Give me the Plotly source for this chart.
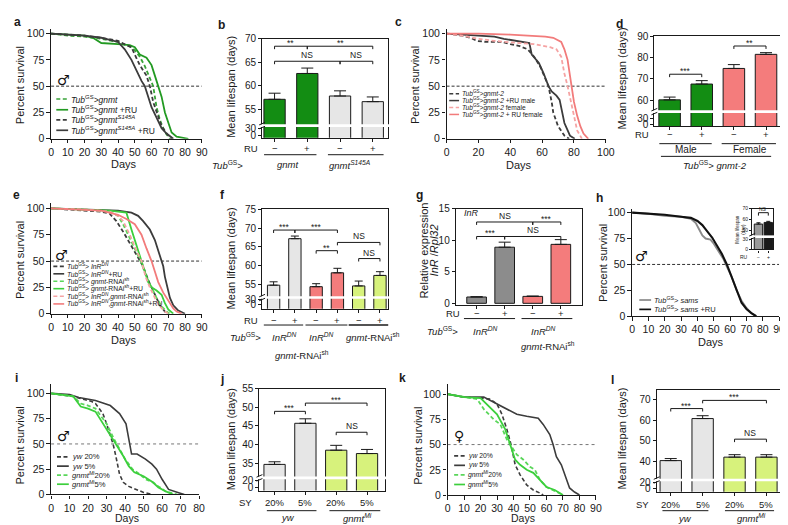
import plotly.graph_objects as go

W, H = 788, 525
FONT = "Arial, Liberation Sans, sans-serif"
INK = "#1a1a1a"

# ===================== DATA =====================
# a: survival (%) vs days, males
a_gnmt_days = [0, 10, 20, 30, 40, 45, 48, 50, 53, 56, 59, 61, 63, 65, 67, 69, 71]
a_gnmt_surv = [100, 98, 97, 95, 92, 89, 87, 84, 78, 69, 57, 50, 30, 18, 10, 4, 0]
a_gnmtRU_days = [0, 10, 20, 25, 30, 40, 47, 50, 53, 57, 60, 62, 64, 66, 68, 70, 72, 75, 80, 82]
a_gnmtRU_surv = [100, 99, 98, 96, 91, 90, 89, 87, 80, 77, 70, 60, 50, 40, 25, 15, 6, 2, 0.5, 0]
a_s145a_days = [0, 10, 20, 30, 40, 45, 48, 50, 53, 57, 59, 61, 63, 66, 69, 72]
a_s145a_surv = [100, 99, 98, 96, 93, 89, 87, 80, 70, 60, 50, 35, 25, 12, 5, 0]
a_s145aRU_days = [0, 10, 20, 30, 40, 44, 48, 51, 54, 56, 58, 60, 63, 66, 69, 73]
a_s145aRU_surv = [100, 99, 98, 96, 92, 85, 75, 65, 55, 50, 40, 30, 20, 10, 5, 0]

# b: mean lifespan (days)
b_ru = ["−", "+", "−", "+"]
b_mean = [57.1, 62.6, 57.8, 56.6]
b_sem = [1.3, 1.15, 1.1, 1.0]

# c: survival, gnmt-2
c_m_days = [0, 5, 10, 15, 19, 25, 35, 40, 46, 51, 55, 59, 62, 64, 66, 67, 70, 74, 77]
c_m_surv = [100, 99, 98, 96, 93, 92, 92, 90, 88, 85, 78, 68, 56, 50, 35, 25, 12, 3, 0]
c_mRU_days = [0, 10, 20, 30, 36, 45, 52, 53.5, 56, 58, 61, 64, 66, 69, 71, 72.5, 74, 75.5, 77.5, 80.5]
c_mRU_surv = [100, 99, 98, 97, 95, 93, 91, 80, 76, 72, 62, 50, 45, 41, 37, 25, 15, 10, 3, 0]
c_f_days = [0, 10, 20, 30, 45, 55, 65, 69, 72, 74, 76, 78, 80, 82, 85]
c_f_surv = [100, 98, 95, 93, 91, 90, 87, 85, 78, 62, 50, 35, 20, 8, 0]
c_fRU_days = [0, 20, 40, 55, 62, 67, 70, 72, 74, 76, 78.5, 80, 82, 84, 86, 89]
c_fRU_surv = [100, 100, 99, 98, 97, 96, 94, 92, 85, 75, 50, 35, 22, 12, 5, 0]

# d: mean lifespan (days)
d_ru = ["−", "+", "−", "+"]
d_mean = [60.2, 67.6, 74.9, 81.5]
d_sem = [1.3, 1.6, 1.8, 0.8]

# e: survival
e_inr_days = [0, 10, 20, 30, 35, 39, 43, 46, 49, 52.5, 55, 58, 62, 65, 68, 70]
e_inr_surv = [100, 99, 98, 97, 95, 88, 78, 70, 62, 52, 45, 32, 18, 8, 2, 0]
e_inrRU_days = [0, 20, 40, 48, 52, 55, 59, 62, 64, 66, 67, 68, 69.5, 71, 73, 76, 80]
e_inrRU_surv = [100, 99, 98, 96, 93, 88, 80, 70, 60, 50, 45, 35, 25, 15, 8, 3, 0]
e_rnai_days = [0, 20, 35, 40, 43, 46, 50, 53.5, 57, 60, 63, 66, 69, 71]
e_rnai_surv = [100, 99, 97, 93, 85, 75, 62, 50, 35, 25, 15, 7, 2, 0]
e_rnaiRU_days = [0, 20, 35, 45, 46, 48, 51, 54, 56, 58, 60, 63, 66, 68, 70, 73]
e_rnaiRU_surv = [100, 99, 98, 96, 90, 80, 65, 50, 40, 30, 25, 22, 18, 10, 4, 0]
e_both_days = [0, 20, 35, 40, 43, 47, 51, 54, 56.5, 59, 62, 65, 68, 70]
e_both_surv = [100, 99, 97, 93, 88, 75, 60, 50, 35, 25, 15, 7, 2, 0]
e_bothRU_days = [0, 20, 30, 40, 45, 50, 54, 57, 60, 62, 64, 67, 70, 73, 75, 78]
e_bothRU_surv = [100, 99, 98, 94, 90, 85, 75, 62, 50, 40, 30, 20, 12, 5, 2, 0]

# f: mean lifespan (days)
f_ru = ["−", "+", "−", "+", "−", "+"]
f_mean = [54.8, 67.2, 54.4, 58.1, 54.6, 57.4]
f_sem = [0.9, 0.7, 0.8, 1.2, 1.3, 1.0]

# g: relative expression InR/Rpl32
g_ru = ["−", "+", "−", "+"]
g_expr = [1.0, 8.9, 1.1, 9.35]
g_sem = [0.05, 0.8, 0.05, 0.75]

# h: survival sams
h_sams_days = [0, 10, 20, 30, 36, 39, 41, 43, 45, 48, 50, 53, 56, 58, 61, 64, 67, 70, 73, 76]
h_sams_surv = [100, 99, 97, 96, 94, 90, 84, 78, 75, 74, 70, 62, 55, 48, 38, 25, 15, 8, 3, 0]
h_samsRU_days = [0, 10, 20, 30, 36, 40, 43, 46, 49, 52, 55, 58, 60, 62, 64, 67, 70, 73, 76]
h_samsRU_surv = [100, 99, 98, 96, 95, 92, 88, 82, 76, 68, 60, 50, 42, 33, 25, 13, 7, 3, 0]
h_ins_ru = ["−", "+"]
h_ins_mean = [56.0, 57.5]
h_ins_sem = [1.2, 1.0]

# i: survival, males, SY diet
i_yw20_days = [0, 5, 12, 18, 22, 24, 26, 28, 30, 32, 33.5, 35, 37, 39, 42, 46, 50, 55]
i_yw20_surv = [100, 99, 97, 94, 92, 90, 85, 80, 70, 58, 50, 38, 20, 12, 8, 5, 2, 0]
i_yw5_days = [0, 10, 15, 24, 32, 37, 40.5, 42, 43.5, 46.5, 51, 54.5, 57, 60, 63.5, 68.5, 72]
i_yw5_surv = [100, 99, 96, 93, 88, 80, 70, 55, 40, 40, 35, 30, 25, 15, 5, 2, 0]
i_mi20_days = [0, 12, 16, 20, 24, 30, 34, 37, 40, 44, 48, 51, 55, 58, 62, 68]
i_mi20_surv = [100, 97, 90, 88, 85, 70, 55, 45, 35, 25, 20, 15, 12, 8, 3, 0]
i_mi5_days = [0, 12, 16, 20, 24, 30, 35, 39, 42, 45, 50, 55, 58, 62, 66]
i_mi5_surv = [100, 97, 87, 85, 82, 65, 50, 38, 28, 22, 18, 12, 7, 3, 0]

# j: mean lifespan (days)
j_sy = ["20%", "5%", "20%", "5%"]
j_mean = [34.7, 45.7, 38.5, 37.6]
j_sem = [0.7, 1.2, 1.3, 1.1]

# k: survival, females, SY diet
k_yw20_days = [0, 10, 20, 26, 30, 33, 36, 38.5, 41, 44, 48, 52, 56, 58]
k_yw20_surv = [100, 97, 96, 95, 90, 80, 65, 50, 30, 20, 10, 5, 2, 0]
k_yw5_days = [0, 10, 22, 28, 34, 42, 48, 55, 58, 62, 64, 66, 69, 72, 74, 77, 80]
k_yw5_surv = [100, 97, 97, 92, 87, 80, 78, 76, 70, 60, 50, 38, 30, 15, 7, 3, 0]
k_mi20_days = [0, 10, 18, 22, 28, 32, 36, 38, 42, 46, 50, 53, 56, 60, 64, 70]
k_mi20_surv = [100, 97, 95, 85, 75, 70, 55, 50, 40, 35, 28, 25, 15, 8, 5, 0]
k_mi5_days = [0, 10, 20, 25, 30, 35, 38, 41, 44, 48, 52, 56, 60, 65, 70]
k_mi5_surv = [100, 97, 96, 88, 80, 65, 50, 35, 30, 25, 22, 15, 8, 5, 0]

# l: mean lifespan (days)
l_sy = ["20%", "5%", "20%", "5%"]
l_mean = [40.3, 60.9, 42.0, 42.0]
l_sem = [1.0, 1.4, 1.2, 1.2]

# colours
GREEN_BAR = "#138d13"
GREY_BAR = "#e6e6e6"
PINK_BAR = "#f47c7c"
LIME_BAR = "#d7f27c"
DGREY_BAR = "#8c8c8c"
GREEN_LINE = "#229a22"
GREEN_DASH = "#39a339"
DARK_LINE = "#3c3c3c"
PINK_LINE = "#f27b7b"
PINK_DASH = "#f5a3a3"
BRIGHT_GREEN = "#3ccf3c"
BRIGHT_GREEN_D = "#5ad65a"

# ===================== HELPERS =====================
fig = go.Figure()
LAY = {}
shapes, anns = [], []
count = [0]
TICK_SURV = 10.5
TICK_BAR = 10
TITLE = 11


def new_axes(Lp, Rp, Tp, Bp, xr, yr, tfs):
    count[0] += 1
    n = count[0]
    s = "" if n == 1 else str(n)
    base = dict(showgrid=False, zeroline=False, showline=True, linecolor=INK, linewidth=1.2,
                ticks="outside", ticklen=3.5, tickwidth=1, tickcolor=INK,
                tickfont=dict(size=tfs, color=INK, family=FONT), fixedrange=True)
    LAY["xaxis" + s] = dict(base, domain=[Lp / W, Rp / W], range=xr, anchor="y" + s)
    LAY["yaxis" + s] = dict(base, domain=[1 - Bp / H, 1 - Tp / H], range=yr, anchor="x" + s)
    return "x" + s, "y" + s, LAY["xaxis" + s], LAY["yaxis" + s]


def text_px(s, x, y, size=9, xa="center", ya="middle", angle=0, color=INK, bold=False, family=FONT):
    if bold:
        s = "<b>" + s + "</b>"
    anns.append(dict(text=s, x=x / W, y=1 - y / H, xref="paper", yref="paper", xanchor=xa,
                     yanchor=ya, showarrow=False, textangle=angle, borderpad=0,
                     font=dict(size=size, color=color, family=family)))


def text_xd(s, x, xref, y, size=9, xa="center"):
    anns.append(dict(text=s, x=x, y=1 - y / H, xref=xref, yref="paper", xanchor=xa, borderpad=0,
                     yanchor="middle", showarrow=False, font=dict(size=size, color=INK, family=FONT)))


def line_px(x0, y0, x1, y1, color=INK, width=1, dash="solid"):
    shapes.append(dict(type="line", xref="paper", yref="paper", x0=x0 / W, x1=x1 / W,
                       y0=1 - y0 / H, y1=1 - y1 / H, line=dict(color=color, width=width, dash=dash)))


def line_xd(x0, x1, xref, y, width=1):
    shapes.append(dict(type="line", xref=xref, yref="paper", x0=x0, x1=x1,
                       y0=1 - y / H, y1=1 - y / H, line=dict(color=INK, width=width)))


def legend_px(x0, y, color, dash, label, size, seg=12, width=1.7):
    line_px(x0, y, x0 + seg, y, color, width, dash)
    text_px(label, x0 + seg + 2, y, size=size, xa="left")


def sex(sym, x, y):
    text_px(sym + "\ufe0e", x, y, 14, bold=True, color="#111111", family="DejaVu Sans")


DASH = "4px,2.5px"


def survival_panel(box, y100, xr, xt, curves, dotted=False):
    Lp, Rp, Tp, Bp = box
    ytop = 100.0 * (Bp - Tp) / (Bp - y100)
    xn, yn, xa, ya = new_axes(Lp, Rp, Tp, Bp, xr, [0, ytop], TICK_SURV)
    xa["tickvals"] = xt
    ya["tickvals"] = [0, 25, 50, 75, 100]
    shapes.append(dict(type="line", xref=xn, yref=yn, x0=xr[0], x1=xr[1], y0=50, y1=50, layer="below",
                       line=dict(color="#777" if dotted else INK, width=1 if dotted else 0.9,
                                 dash="dot" if dotted else "3px,2px")))
    for xs, ys, color, dash, w in curves:
        fig.add_trace(go.Scatter(x=xs, y=ys, mode="lines", line=dict(color=color, width=w, dash=dash),
                                 xaxis=xn, yaxis=yn, showlegend=False, hoverinfo="skip"))
    return xn, yn


def bar_panel(box, xr, yr, vals, sems, colors, width, ytv, ytt, brk, sigs, capw=6,
              sigsize=8.5, tickfs=TICK_BAR):
    Lp, Rp, Tp, Bp = box
    n = len(vals)
    xn, yn, xa, ya = new_axes(Lp, Rp, Tp, Bp, xr, yr, tickfs)
    xa.update(mirror=True, tickvals=list(range(n)), showticklabels=False, ticklen=3)
    ya.update(mirror=True, tickvals=ytv, ticktext=ytt, ticklen=3)
    fig.add_trace(go.Bar(x=list(range(n)), y=vals, width=width,
                         marker=dict(color=colors, line=dict(color=INK, width=1)),
                         error_y=dict(type="data", symmetric=False, array=sems, arrayminus=[0] * n,
                                      color=INK, thickness=1, width=capw),
                         xaxis=xn, yaxis=yn, showlegend=False, hoverinfo="skip"))
    pxu = (Bp - Tp) / (yr[1] - yr[0])
    if brk is not None:
        yb = Bp - (brk - yr[0]) * pxu
        line_px(Lp - 4, yb, Rp + 1.5, yb, "white", 2.6)
        for off in (-2.0, 2.0):
            line_px(Lp - 3, yb + off + 1.3, Lp + 3, yb + off - 1.3, INK, 1)
    d = 3.0 / pxu
    for i, j, yv, lab in sigs:
        shapes.append(dict(type="path", xref=xn, yref=yn,
                           path=f"M {i},{yv - d} L {i},{yv} L {j},{yv} L {j},{yv - d}",
                           line=dict(color=INK, width=1)))
        anns.append(dict(text=lab, x=(i + j) / 2, y=yv, xref=xn, yref=yn, xanchor="center",
                         yanchor="bottom", showarrow=False, yshift=(-4 if "*" in lab else -1),
                         font=dict(size=sigsize, color=INK, family=FONT)))
    return xn, yn


TUB = "<i>Tub</i><sup>GS</sup>"

# ===================== PANEL a =====================
survival_panel((40.7, 193.7, 15, 127.7), 20, [0, 90], list(range(0, 91, 10)), [
    (a_gnmt_days, a_gnmt_surv, GREEN_DASH, DASH, 1.8),
    (a_gnmtRU_days, a_gnmtRU_surv, GREEN_LINE, "solid", 1.8),
    (a_s145a_days, a_s145a_surv, DARK_LINE, DASH, 1.8),
    (a_s145aRU_days, a_s145aRU_surv, DARK_LINE, "solid", 1.8),
])
text_px("a", 7, 8, 12, bold=True)
text_px("Percent survival", 9, 73, TITLE, angle=-90)
text_px("Days", 115, 154, TITLE)
sex("♂", 53, 68)
legend_px(46, 87, GREEN_DASH, DASH, TUB + "<i>&gt;gnmt</i>", 8.5)
legend_px(46, 98, GREEN_LINE, "solid", TUB + "<i>&gt;gnmt</i> +RU", 8.5)
legend_px(46, 108.3, DARK_LINE, DASH, TUB + "<i>&gt;gnmt</i><sup><i>S145A</i></sup>", 8.5)
legend_px(46, 119, DARK_LINE, "solid", TUB + "<i>&gt;gnmt</i><sup><i>S145A</i></sup> +RU", 8.5)

# ===================== PANEL b =====================
xb, yb_ = bar_panel((255, 383, 25.3, 126.7), [-0.38, 3.47], [48.9, 70], b_mean, b_sem,
                    [GREEN_BAR, GREEN_BAR, GREY_BAR, GREY_BAR], 0.65,
                    [49.45, 50.85, 55, 60, 65, 70], ["0", "30", "55", "60", "65", "70"], 51.5,
                    [(0, 1, 68.4, "**"), (1, 3, 68.4, "**"), (0, 2, 65.2, "NS"), (2, 3, 65.2, "NS")])
text_px("b", 214, 11.7, 12, bold=True)
text_px("Mean lifespan (days)", 224, 75, TITLE, angle=-90)
text_px("RU", 252, 137.3, 9.5, xa="right")
for k, s in enumerate(b_ru):
    text_xd(s, k, xb, 137.3, 9.5)
line_xd(-0.32, 1.28, xb, 144)
line_xd(1.63, 3.33, xb, 144)
text_px(TUB + "&gt;", 220, 154.3, 9.5)
text_xd("<i>gnmt</i>", 0.4, xb, 154.3, 9.5)
text_xd("<i>gnmt</i><sup><i>S145A</i></sup>", 2.3, xb, 154.3, 9.5)

# ===================== PANEL c =====================
survival_panel((442.3, 604, 15, 127.7), 20, [0, 100], list(range(0, 101, 20)), [
    (c_m_days, c_m_surv, DARK_LINE, DASH, 1.8),
    (c_mRU_days, c_mRU_surv, DARK_LINE, "solid", 1.8),
    (c_f_days, c_f_surv, PINK_DASH, DASH, 1.8),
    (c_fRU_days, c_fRU_surv, PINK_LINE, "solid", 1.8),
])
text_px("c", 393, 8, 12, bold=True)
text_px("Percent survival", 411, 73, TITLE, angle=-90)
text_px("Days", 516, 155, TITLE)
legend_px(445, 81.7, DARK_LINE, DASH, TUB + "<i>&gt;gnmt-2</i>", 6.6, seg=10, width=1.5)
legend_px(445, 88.6, DARK_LINE, "solid", TUB + "<i>&gt;gnmt-2</i> +RU male", 6.6, seg=10, width=1.5)
legend_px(445, 95.7, PINK_DASH, DASH, TUB + "<i>&gt;gnmt-2</i> female", 6.6, seg=10, width=1.5)
legend_px(445, 102.8, PINK_LINE, "solid", TUB + "<i>&gt;gnmt-2</i> + RU female", 6.6, seg=10, width=1.5)

# ===================== PANEL d =====================
xd, yd = bar_panel((653.3, 781.7, 22.7, 115), [-0.475, 3.46], [47.8, 90], d_mean, d_sem,
                   [GREEN_BAR, GREEN_BAR, PINK_BAR, PINK_BAR], 0.67,
                   [48.5, 51.5, 60, 70, 80, 90], ["0", "30", "60", "70", "80", "90"], 54.7,
                   [(0, 1, 72.2, "***"), (2, 3, 85.4, "**")])
text_px("d", 618, 10, 12, bold=True)
text_px("Mean lifespan (days)", 620.5, 66, TITLE, angle=-90)
text_px("RU", 649, 123.3, 9.5, xa="right")
for k, s in enumerate(d_ru):
    text_xd(s, k, xd, 123.3, 9.5)
line_xd(-0.32, 1.31, xd, 132.7)
line_xd(1.62, 3.31, xd, 132.7)
text_xd("Male", 0.5, xd, 138.8, 10)
text_xd("Female", 2.5, xd, 138.8, 10)
line_xd(-0.27, 3.16, xd, 145.7)
text_px(TUB + "&gt; <i>gnmt-2</i>", 715, 155, 9.5)

# ===================== PANEL e =====================
survival_panel((40.7, 193.7, 193.3, 306.7), 199, [0, 90], list(range(0, 91, 10)), [
    (e_inr_days, e_inr_surv, DARK_LINE, DASH, 1.8),
    (e_inrRU_days, e_inrRU_surv, DARK_LINE, "solid", 1.8),
    (e_rnai_days, e_rnai_surv, BRIGHT_GREEN_D, DASH, 1.8),
    (e_rnaiRU_days, e_rnaiRU_surv, BRIGHT_GREEN, "solid", 1.8),
    (e_both_days, e_both_surv, PINK_DASH, DASH, 1.8),
    (e_bothRU_days, e_bothRU_surv, PINK_LINE, "solid", 1.8),
])
text_px("e", 6, 185, 12, bold=True)
text_px("Percent survival", 9, 252, TITLE, angle=-90)
text_px("Days", 115, 333.3, TITLE)
sex("♂", 51, 246.7)
e_leg = [
    (DARK_LINE, DASH, TUB + "&gt; <i>InR</i><sup><i>DN</i></sup>"),
    (DARK_LINE, "solid", TUB + "&gt; <i>InR</i><sup><i>DN</i></sup>+RU"),
    (BRIGHT_GREEN_D, DASH, TUB + "&gt; <i>gnmt</i>-RNAi<sup>sh</sup>"),
    (BRIGHT_GREEN, "solid", TUB + "&gt; <i>gnmt</i>-RNAi<sup>sh</sup>+RU"),
    (PINK_DASH, DASH, TUB + "&gt; <i>InR</i><sup><i>DN</i></sup>,<i>gnmt</i>-RNAi<sup>sh</sup>"),
    (PINK_LINE, "solid", TUB + "&gt; <i>InR</i><sup><i>DN</i></sup>,<i>gnmt</i>-RNAi<sup>sh</sup>+RU"),
]
for k, (c_, dsh, lab) in enumerate(e_leg):
    legend_px(43, [258.3, 265.9, 273.5, 281.1, 288.9, 296.7][k], c_, dsh, lab, 6.8, seg=11, width=1.6)

# ===================== PANEL f =====================
xf, yf = bar_panel((255, 383.3, 200, 301.7), [-0.54, 5.4], [48.5, 75], f_mean, f_sem,
                   [GREY_BAR, GREY_BAR, PINK_BAR, PINK_BAR, LIME_BAR, LIME_BAR], 0.58,
                   [49.7, 51.0, 55, 60, 65, 70, 75], ["0", "30", "55", "60", "65", "70", "75"], 51.5,
                   [(0, 1, 69.5, "***"), (1, 3, 69.5, "***"), (2, 3, 64.0, "**"),
                    (3, 5, 66.2, "NS"), (4, 5, 61.9, "NS")], capw=4)
text_px("f", 215, 185, 12, bold=True)
text_px("Mean lifespan (days)", 223.5, 250, TITLE, angle=-90)
text_px("RU", 252, 313.3, 9.5, xa="right")
for k, s in enumerate(f_ru):
    text_xd(s, k, xf, 313.3, 9.5)
line_xd(-0.46, 1.39, xf, 318.3)
line_xd(1.5, 3.47, xf, 318.3)
line_xd(3.53, 5.4, xf, 318.3, width=1.6)
text_px(TUB + "&gt;", 238, 331, 9.5)
text_xd("<i>InR</i><sup><i>DN</i></sup>", 0.5, xf, 330.5, 9.5)
text_xd("<i>InR</i><sup><i>DN</i></sup>", 2.25, xf, 330.5, 9.5)
text_xd("<i>gnmt</i>-RNAi<sup>sh</sup>", 4.69, xf, 330.5, 9.5)
text_px("<i>gnmt</i>-RNAi<sup>sh</sup>", 296, 349, 9.5)

# ===================== PANEL g =====================
xg, yg = bar_panel((451.7, 580, 199.3, 297.7), [-0.74, 3.76], [-0.25, 15], g_expr, g_sem,
                   [DGREY_BAR, DGREY_BAR, PINK_BAR, PINK_BAR], 0.7,
                   [0, 5, 10, 15], ["0", "5", "10", "15"], None,
                   [(0, 2, 12.9, "NS"), (2, 3, 12.9, "***"), (0, 1, 10.6, "***"), (1, 3, 10.6, "NS")])
text_px("g", 415, 185, 12, bold=True)
text_px("Relative expression", 419.5, 242, TITLE, angle=-90)
text_px("<i>InR</i> /<i>Rpl32</i>", 430.5, 242, TITLE, angle=-90)
text_px("<i>InR</i>", 468, 204, 9)
text_px("RU", 457, 306.7, 9.5, xa="right")
for k, s in enumerate(g_ru):
    text_xd(s, k, xg, 306.7, 9.5)
line_xd(-0.45, 1.37, xg, 311.7)
line_xd(1.6, 3.41, xg, 311.7)
text_px(TUB + "&gt;", 438, 324, 9.5)
text_xd("<i>InR</i><sup><i>DN</i></sup>", 0.3, xg, 324, 9.5)
text_xd("<i>InR</i><sup><i>DN</i></sup>", 2.4, xg, 324, 9.5)
text_px("<i>gnmt</i>-RNAi<sup>sh</sup>", 545, 340, 9.5)

# ===================== PANEL h =====================
survival_panel((630.7, 780, 199.3, 309.3), 203.3, [0, 90], list(range(0, 91, 10)), [
    (h_sams_days, h_sams_surv, "#8a8a8a", "solid", 1.9),
    (h_samsRU_days, h_samsRU_surv, "#111111", "solid", 2.1),
])
text_px("h", 598, 188, 12, bold=True)
text_px("Percent survival", 601, 255, TITLE, angle=-90)
text_px("Days", 711, 335.7, TITLE)
sex("♂", 640, 247.3)
legend_px(638, 292.7, "#8a8a8a", "solid", TUB + "&gt; <i>sams</i>", 7.5)
legend_px(638, 302.3, "#111111", "solid", TUB + "&gt; <i>sams</i> +RU", 7.5)
xh, yh = bar_panel((752.7, 774, 199.3, 241), [-0.63, 1.5], [32.8, 70], h_ins_mean, h_ins_sem,
                   ["#9a9a9a", "#1a1a1a"], 0.85,
                   [33.1, 41.7, 50, 60, 70], ["0", "30", "50", "60", "70"], 44.5,
                   [(0, 1, 66.4, "NS")], capw=2, sigsize=5, tickfs=5)
LAY["yaxis" + yh[1:]]["ticklen"] = 2
LAY["xaxis" + xh[1:]]["ticklen"] = 2
text_px("Mean lifespan<br>(day)", 741, 220, 4.5, angle=-90)
text_px("RU", 749, 249, 5, xa="right")
for k, s in enumerate(h_ins_ru):
    text_xd(s, k, xh, 249, 5)

# ===================== PANEL i =====================
survival_panel((40.7, 191, 378.3, 491.7), 388.3, [0, 80], list(range(0, 81, 10)), [
    (i_yw20_days, i_yw20_surv, DARK_LINE, DASH, 1.6),
    (i_yw5_days, i_yw5_surv, DARK_LINE, "solid", 1.6),
    (i_mi20_days, i_mi20_surv, BRIGHT_GREEN_D, DASH, 1.8),
    (i_mi5_days, i_mi5_surv, BRIGHT_GREEN, "solid", 1.8),
], dotted=True)
text_px("i", 6, 373, 12, bold=True)
text_px("Percent survival", 9, 441.7, TITLE, angle=-90)
text_px("Days", 118.3, 516, 10.5)
sex("♂", 53, 432.3)
legend_px(46.7, 453.3, DARK_LINE, DASH, "<i>yw</i> 20%", 7.6)
legend_px(46.7, 462.7, DARK_LINE, "solid", "<i>yw</i> 5%", 7.6)
legend_px(46.7, 471.9, BRIGHT_GREEN_D, DASH, "<i>gnmt</i><sup><i>Mi</i></sup>20%", 7.6)
legend_px(46.7, 481.2, BRIGHT_GREEN, "solid", "<i>gnmt</i><sup><i>Mi</i></sup>5%", 7.6)

# ===================== PANEL j =====================
xj, yj = bar_panel((252.3, 380, 383.3, 487.7), [-0.49, 3.59], [27.7, 55], j_mean, j_sem,
                   [GREY_BAR, GREY_BAR, LIME_BAR, LIME_BAR], 0.69,
                   [28.5, 30.4, 35, 40, 45, 50, 55], ["0", "20", "35", "40", "45", "50", "55"], 31.1,
                   [(0, 1, 48.9, "***"), (1, 3, 51.1, "***"), (2, 3, 43.3, "NS")])
text_px("j", 214, 374, 12, bold=True)
text_px("Mean lifespan (days)", 223.5, 435, TITLE, angle=-90)
text_px("SY", 246, 500, 9.5, xa="right")
for k, s in enumerate(j_sy):
    text_xd(s, k, xj, 500, 9.5)
line_xd(-0.25, 1.36, xj, 508.3)
line_xd(1.78, 3.43, xj, 508.3)
text_xd("<i>yw</i>", 0.45, xj, 515.5, 9.5)
text_xd("<i>gnmt</i><sup><i>Mi</i></sup>", 2.7, xj, 515.5, 9.5)

# ===================== PANEL k =====================
survival_panel((443.3, 594, 378.3, 492.3), 389, [0, 90], list(range(0, 91, 10)), [
    (k_yw20_days, k_yw20_surv, DARK_LINE, DASH, 1.6),
    (k_yw5_days, k_yw5_surv, DARK_LINE, "solid", 1.6),
    (k_mi20_days, k_mi20_surv, BRIGHT_GREEN_D, DASH, 1.8),
    (k_mi5_days, k_mi5_surv, BRIGHT_GREEN, "solid", 1.8),
], dotted=True)
text_px("k", 398, 373, 12, bold=True)
text_px("Percent survival", 412.5, 441.7, TITLE, angle=-90)
text_px("Days", 520, 516, 10.5)
sex("♀", 455, 432.3)
legend_px(450, 452.3, DARK_LINE, DASH, "<i>yw</i> 20%", 6.8, seg=11)
legend_px(450, 461.9, DARK_LINE, "solid", "<i>yw</i> 5%", 6.8, seg=11)
legend_px(450, 471.7, BRIGHT_GREEN_D, DASH, "<i>gnmt</i><sup><i>Mi</i></sup>20%", 6.8, seg=11)
legend_px(450, 481.5, BRIGHT_GREEN, "solid", "<i>gnmt</i><sup><i>Mi</i></sup>5%", 6.8, seg=11)

# ===================== PANEL l =====================
xl, yl = bar_panel((655.7, 783.3, 385, 489), [-0.44, 3.5], [25, 74.8], l_mean, l_sem,
                   [GREY_BAR, GREY_BAR, LIME_BAR, LIME_BAR], 0.67,
                   [26.8, 29.5, 40, 50, 60, 70], ["0", "20", "40", "50", "60", "70"], 30.8,
                   [(0, 1, 65.8, "***"), (1, 3, 69.8, "***"), (2, 3, 50.8, "NS")])
text_px("l", 611, 375, 12, bold=True)
text_px("Mean lifespan (days)", 621, 435, TITLE, angle=-90)
text_px("SY", 649, 501.7, 9.5, xa="right")
for k, s in enumerate(l_sy):
    text_xd(s, k, xl, 501.7, 9.5)
line_xd(-0.26, 1.18, xl, 508.3)
line_xd(1.7, 3.24, xl, 508.3)
text_xd("<i>yw</i>", 0.46, xl, 516, 9.5)
text_xd("<i>gnmt</i><sup><i>Mi</i></sup>", 2.52, xl, 516, 9.5)

# ===================== LAYOUT =====================
fig.update_layout(width=W, height=H, margin=dict(l=0, r=0, t=0, b=0),
                  paper_bgcolor="white", plot_bgcolor="white", showlegend=False,
                  font=dict(family=FONT, color=INK), shapes=shapes, annotations=anns, **LAY)
fig.write_html("out.html")
